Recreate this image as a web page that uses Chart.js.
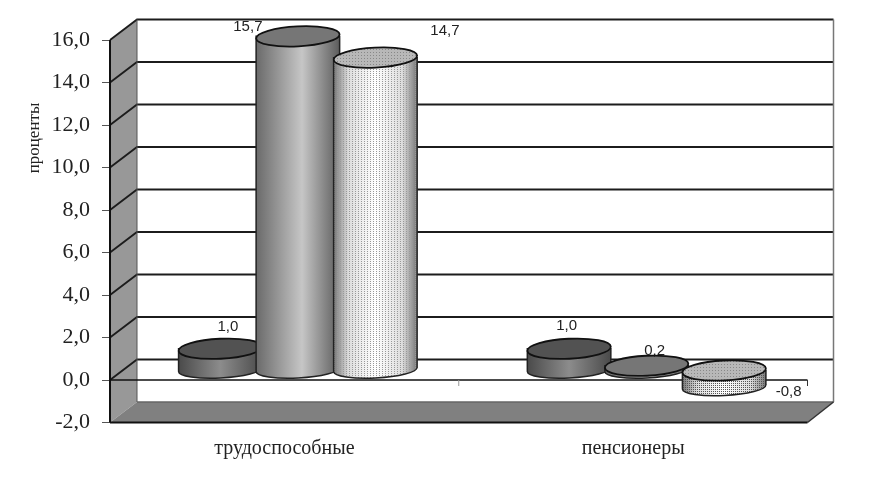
<!DOCTYPE html>
<html lang="ru">
<head>
<meta charset="utf-8">
<title>Проценты</title>
<script src="https://cdn.jsdelivr.net/npm/chart.js@4"></script>
<style>
  html, body { margin: 0; background: #fff; }
  #wrap { width: 879px; height: 479px; }
  /* the source is a soft scan */
  #grafica { filter: blur(0.35px); }
</style>
</head>
<body>
<div id="wrap"><canvas id="grafica"></canvas></div>
<script>
const categories = ['трудоспособные', 'пенсионеры'];
const series1 = [1.0, 1.0];
const series2 = [15.7, 0.2];
const series3 = [14.7, -0.8];
const yMin = -2;
const yMax = 16;
const yStep = 2;
const yTitle = 'проценты';

const fmt = (v) => v.toFixed(1).replace('.', ',');

// 3D depth of the box and of the cylinders
const depthX = 27;
const depthY = 20.5;
const midX = 13.5;
const midY = 10;
const capRy = 10;
const footRy = 8.5;

// where each value label sits, relative to its bar end [series][category]
const labelShift = [
  [[21, -32], [11, -33]],
  [[-36.5, -20], [21.5, -25]],
  [[83, -37], [78, -5.5]]
];

const cylinderLook = [
  { stops: [[0, '#4a4a4a'], [0.5, '#8c8c8c'], [1, '#4a4a4a']], cap: '#525252' },
  { stops: [[0, '#6a6a6a'], [0.55, '#c6c6c6'], [1, '#5c5c5c']], cap: '#767676' },
  { stops: [[0, '#777'], [0.18, '#ddd'], [0.5, '#fff'], [0.82, '#ddd'], [1, '#777']], cap: '#b8b8b8', dots: true }
];

function dotPattern(ctx, color, w, h) {
  const tile = document.createElement('canvas');
  tile.width = w;
  tile.height = h;
  const t = tile.getContext('2d');
  t.fillStyle = color;
  t.fillRect(1, 1, 1, 1);
  return ctx.createPattern(tile, 'repeat');
}

function polygon(ctx, pts, fill) {
  ctx.beginPath();
  pts.forEach((p, i) => (i ? ctx.lineTo(p[0], p[1]) : ctx.moveTo(p[0], p[1])));
  ctx.closePath();
  ctx.fillStyle = fill;
  ctx.fill();
}

function line(ctx, x1, y1, x2, y2, color, width) {
  ctx.beginPath();
  ctx.moveTo(x1, y1);
  ctx.lineTo(x2, y2);
  ctx.strokeStyle = color;
  ctx.lineWidth = width;
  ctx.stroke();
}

function drawCylinder(ctx, bar, look) {
  const rx = bar.width / 2 + 3;
  const cx = bar.x + midX;
  const top = Math.min(bar.y, bar.base) - midY;
  const bottom = Math.max(bar.y, bar.base) - midY;
  const short = bottom - top < 40;

  const grad = ctx.createLinearGradient(cx - rx, 0, cx + rx, 0);
  look.stops.forEach((s) => grad.addColorStop(s[0], s[1]));

  ctx.beginPath();
  ctx.moveTo(cx - rx, top);
  ctx.lineTo(cx - rx, bottom);
  ctx.ellipse(cx, bottom, rx, footRy, -0.05, Math.PI, 0, true);
  ctx.lineTo(cx + rx, top);
  ctx.closePath();
  ctx.fillStyle = grad;
  ctx.fill();
  if (look.dots) {
    // short one is stippled densely, the tall one has fine vertical rows
    ctx.fillStyle = short ? dotPattern(ctx, '#555', 2, 2) : dotPattern(ctx, '#999', 3, 2);
    ctx.fill();
  }
  ctx.strokeStyle = '#222';
  ctx.lineWidth = 1.5;
  ctx.stroke();

  ctx.beginPath();
  ctx.ellipse(cx, top, rx, capRy, -0.05, 0, Math.PI * 2);
  ctx.fillStyle = look.cap;
  ctx.fill();
  if (look.dots) {
    ctx.fillStyle = dotPattern(ctx, '#888', 3, 3);
    ctx.fill();
  }
  ctx.strokeStyle = '#111';
  ctx.lineWidth = 1.8;
  ctx.stroke();
}

const boxPlugin = {
  id: 'box3d',
  beforeDatasetsDraw(chart) {
    const { ctx, chartArea: a, scales } = chart;
    const y = scales.y;
    const backL = a.left + depthX;
    const backR = a.right + depthX - 1;
    ctx.save();

    // walls and floor
    polygon(ctx, [[a.left, a.top], [backL, a.top - depthY], [backL, a.bottom - depthY], [a.left, a.bottom]], '#989898');
    polygon(ctx, [[a.left, a.bottom], [a.right, a.bottom], [backR, a.bottom - depthY], [backL, a.bottom - depthY]], '#808080');

    // grid runs along the left wall and then the back wall
    y.ticks.forEach((t) => {
      const py = y.getPixelForValue(t.value);
      if (t.value === yMin) return;
      ctx.beginPath();
      ctx.moveTo(a.left, py);
      ctx.lineTo(backL, py - depthY);
      ctx.lineTo(backR, py - depthY);
      ctx.strokeStyle = '#1c1c1c';
      ctx.lineWidth = 1.8;
      ctx.stroke();
    });

    line(ctx, backL, a.top - depthY, backL, a.bottom - depthY, '#555', 1);
    line(ctx, backR, a.top - depthY, backR, a.bottom - depthY, '#777', 1.5);
    line(ctx, backL, a.bottom - depthY, backR, a.bottom - depthY, '#666', 1.5);
    line(ctx, a.right, a.bottom, backR, a.bottom - depthY, '#333', 1.5);
    line(ctx, a.left, a.top, a.left, a.bottom, '#111', 2);
    line(ctx, a.left, a.bottom, a.right, a.bottom, '#111', 2.2);

    // zero line in the front plane with its ticks
    const zero = y.getPixelForValue(0);
    line(ctx, a.left, zero, a.right, zero, '#111', 1.6);
    line(ctx, a.right, zero, a.right, zero + 6, '#333', 1);
    line(ctx, (a.left + a.right) / 2, zero, (a.left + a.right) / 2, zero + 6, '#999', 1);
    ctx.restore();
  },
  // the flat bars are replaced by the cylinders below
  beforeDatasetDraw() {
    return false;
  },
  afterDatasetsDraw(chart) {
    const { ctx } = chart;
    ctx.save();
    categories.forEach((c, i) => {
      chart.data.datasets.forEach((ds, s) => {
        drawCylinder(ctx, chart.getDatasetMeta(s).data[i], cylinderLook[s]);
      });
    });

    ctx.fillStyle = '#222';
    ctx.font = '15px "Liberation Sans"';
    ctx.textAlign = 'center';
    ctx.textBaseline = 'middle';
    chart.data.datasets.forEach((ds, s) => {
      chart.getDatasetMeta(s).data.forEach((bar, i) => {
        const shift = labelShift[s][i];
        ctx.fillText(fmt(ds.data[i]), bar.x + shift[0], bar.y + shift[1]);
      });
    });

    ctx.translate(35, 138);
    ctx.rotate(-Math.PI / 2);
    ctx.font = '17px "Liberation Serif"';
    ctx.fillText(yTitle, 0, 0);
    ctx.restore();
  }
};

new Chart(document.getElementById('grafica'), {
  type: 'bar',
  data: {
    labels: categories,
    datasets: [
      { label: 'ряд 1', data: series1, backgroundColor: '#555' },
      { label: 'ряд 2', data: series2, backgroundColor: '#999' },
      { label: 'ряд 3', data: series3, backgroundColor: '#ddd' }
    ]
  },
  options: {
    responsive: true,
    maintainAspectRatio: false,
    animation: false,
    layout: { padding: { top: 40, right: 71.5, bottom: 0, left: 0 } },
    plugins: { legend: { display: false }, tooltip: { enabled: false } },
    datasets: { bar: { categoryPercentage: 0.667, barPercentage: 1 } },
    scales: {
      x: {
        grid: { display: false },
        border: { display: false },
        afterFit: (scale) => { scale.height = 56.5; },
        ticks: {
          padding: 6,
          color: '#222',
          font: { family: '"Liberation Serif"', size: 20 },
          maxRotation: 0
        }
      },
      y: {
        min: yMin,
        max: yMax,
        border: { display: false },
        afterFit: (scale) => { scale.width = 110; },
        grid: { drawOnChartArea: false, tickLength: 8, color: '#555' },
        ticks: {
          stepSize: yStep,
          padding: 12,
          color: '#222',
          font: { family: '"Liberation Serif"', size: 22 },
          callback: (v) => fmt(v)
        }
      }
    }
  },
  plugins: [boxPlugin]
});
</script>
</body>
</html>
